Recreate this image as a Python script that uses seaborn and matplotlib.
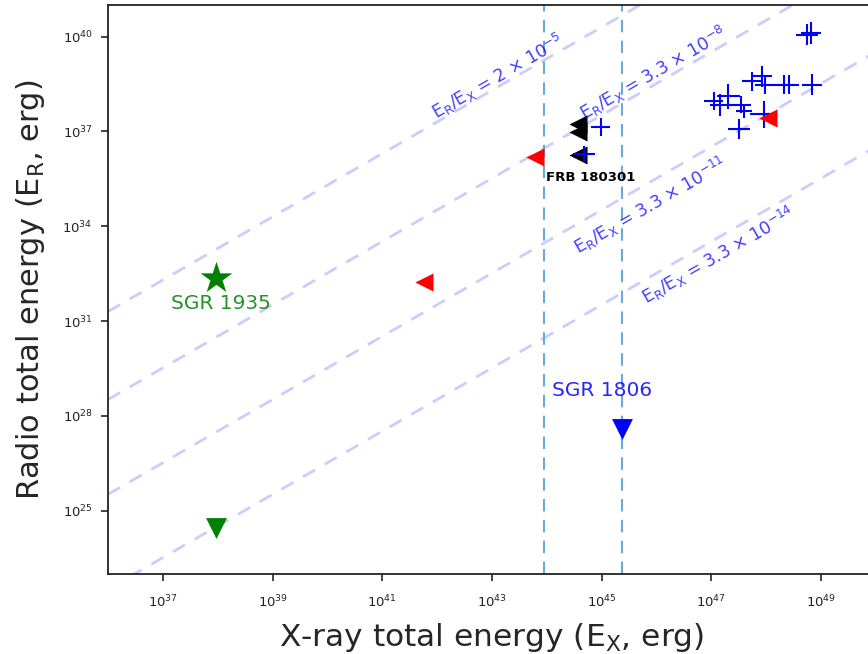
import numpy as np
import pandas as pd
import matplotlib
matplotlib.use("Agg")
import matplotlib.pyplot as plt
from matplotlib.ticker import NullLocator
import seaborn as sns

# ---- data (log10 of energies) ----
# SGR 1935 detections / limits
sgr1935_star_x = [37.97]
sgr1935_star_y = [32.35]
sgr1935_lim_x = [37.97]
sgr1935_lim_y = [24.45]

# SGR 1806 radio upper limit
sgr1806_x = [45.37]
sgr1806_y = [27.58]

# red upper limits ('<')
red_x = [41.76, 43.79, 48.04]
red_y = [32.24, 36.19, 37.43]

# FRB 180301 ('<')
frb_x = [44.57, 44.57, 44.57]
frb_y = [37.25, 36.98, 36.26]

# blue crosses: log values and half-widths in dex
cross_x = [44.98, 44.67, 47.04, 47.16, 47.31, 47.53, 47.59, 47.95, 47.50,
           47.74, 47.92, 47.98, 48.32, 48.41, 48.83, 48.74, 48.81]
cross_y = [37.13, 36.28, 37.96, 37.85, 38.11, 37.85, 37.64, 37.54, 37.07,
           38.58, 38.74, 38.48, 38.48, 38.48, 38.48, 40.06, 40.12]
cross_dx = [0.18, 0.20, 0.18, 0.18, 0.21, 0.20, 0.15, 0.24, 0.20,
            0.18, 0.18, 0.18, 0.18, 0.18, 0.18, 0.20, 0.18]
cross_dy = [0.28, 0.26, 0.29, 0.35, 0.39, 0.26, 0.20, 0.42, 0.31,
            0.29, 0.34, 0.31, 0.29, 0.29, 0.34, 0.34, 0.34]

# ratio lines E_R/E_X
ratios = [2e-5, 3.3e-8, 3.3e-11, 3.3e-14]
ratio_labels = [r"E$_\mathrm{R}$/E$_\mathrm{X}$ = 2 $\times$ 10$^{-5}$",
                r"E$_\mathrm{R}$/E$_\mathrm{X}$ = 3.3 $\times$ 10$^{-8}$",
                r"E$_\mathrm{R}$/E$_\mathrm{X}$ = 3.3 $\times$ 10$^{-11}$",
                r"E$_\mathrm{R}$/E$_\mathrm{X}$ = 3.3 $\times$ 10$^{-14}$"]
ratio_label_x = [43.1, 45.93, 45.89, 47.13]
ratio_label_y = [38.74, 38.84, 34.65, 33.08]

# vertical reference energies
vlines_x = [43.95, 45.37]

xticks = [37, 39, 41, 43, 45, 47, 49]
yticks = [25, 28, 31, 34, 37, 40]

sns.set_style("ticks")
plt.rcParams["font.family"] = ["DejaVu Sans"]

fig = plt.figure(figsize=(8.68, 6.54), dpi=100)
ax = fig.add_axes([108 / 868, 80 / 654, 768 / 868, 569 / 654])
ax.set_xscale("log")
ax.set_yscale("log")

p = lambda v: 10 ** np.asarray(v, dtype=float)

# diagonal ratio lines
xx = p([36, 50])
for r in ratios:
    sns.lineplot(x=xx, y=r * xx, ax=ax, color=(0.8, 0.8, 1.0), lw=2,
                 linestyle=(0, (5, 4)), zorder=1)

for vx in vlines_x:
    ax.axvline(10 ** vx, color="#6aaad8", lw=1.5, linestyle=(0, (6, 4)), zorder=1)

# crosses (error bars)
cx, cy = p(cross_x), p(cross_y)
dx, dy = np.asarray(cross_dx), np.asarray(cross_dy)
ax.errorbar(cx, cy,
            xerr=[cx - cx * 10 ** -dx, cx * 10 ** dx - cx],
            yerr=[cy - cy * 10 ** -dy, cy * 10 ** dy - cy],
            fmt="none", ecolor="blue", elinewidth=1.5, capsize=0, zorder=3)

sns.scatterplot(x=p(red_x), y=p(red_y), ax=ax, marker="<", color="red",
                s=13 ** 2, linewidth=0, zorder=4)
sns.scatterplot(x=p(frb_x), y=p(frb_y), ax=ax, marker="<", color="black",
                s=13 ** 2, linewidth=0, zorder=2)
sns.scatterplot(x=p(sgr1935_star_x), y=p(sgr1935_star_y), ax=ax, marker="*",
                color="green", s=24 ** 2, linewidth=0, zorder=4)
sns.scatterplot(x=p(sgr1935_lim_x), y=p(sgr1935_lim_y), ax=ax, marker="v",
                color="green", s=15 ** 2, linewidth=0, zorder=4)
sns.scatterplot(x=p(sgr1806_x), y=p(sgr1806_y), ax=ax, marker="v",
                color="blue", s=15 ** 2, linewidth=0, zorder=4)

# annotations
ax.text(10 ** 38.05, 10 ** 31.55, "SGR 1935", color="green", alpha=0.85,
        fontsize=14.5, ha="center", va="center")
ax.text(10 ** 45.0, 10 ** 28.8, "SGR 1806", color="blue", alpha=0.85,
        fontsize=14.5, ha="center", va="center")
ax.text(10 ** 43.98, 10 ** 35.55, "FRB 180301", color="black",
        fontsize=9.5, fontweight="bold", ha="left", va="center")
for lx, ly, lab in zip(ratio_label_x, ratio_label_y, ratio_labels):
    ax.text(10 ** lx, 10 ** ly, lab, color="blue", alpha=0.75, fontsize=12.5,
            rotation=30, ha="center", va="center", rotation_mode="anchor")

ax.set_xlim(1e36, 1e50)
ax.set_ylim(1e23, 1e41)
ax.set_xticks(p(xticks))
ax.set_yticks(p(yticks))
ax.xaxis.set_minor_locator(NullLocator())
ax.yaxis.set_minor_locator(NullLocator())
ax.tick_params(axis="both", labelsize=9.5, length=5, width=1.2,
               colors="#222222", pad=6)
ax.tick_params(axis="x", pad=9)
for s in ax.spines.values():
    s.set_color("#222222")
    s.set_linewidth(1.3)

ax.set_xlabel(r"X-ray total energy (E$_\mathrm{X}$, erg)", fontsize=22.5, labelpad=8)
ax.set_ylabel(r"Radio total energy (E$_\mathrm{R}$, erg)", fontsize=22, labelpad=11)

fig.savefig("out.png", dpi=100)
